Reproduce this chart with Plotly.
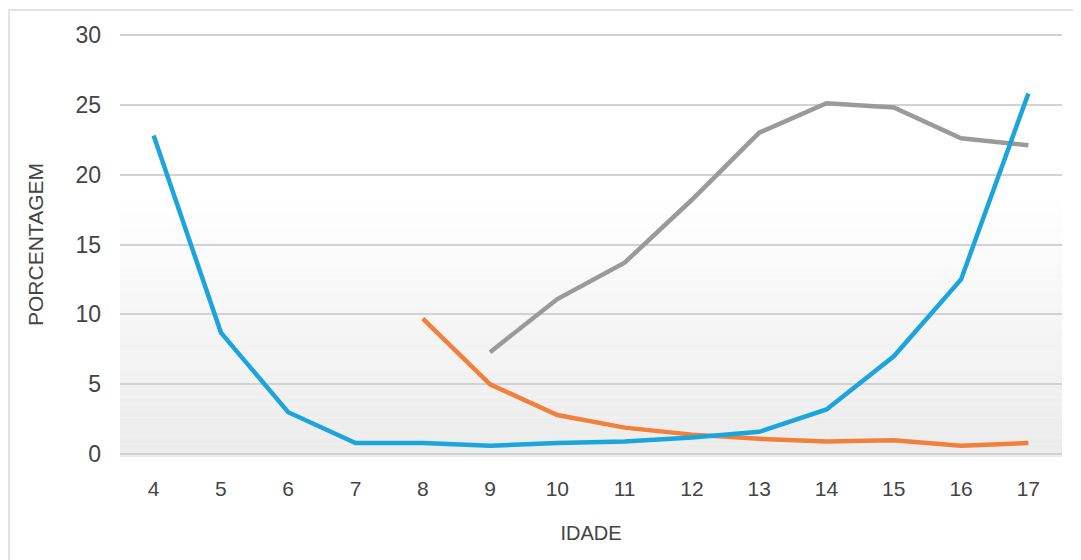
import plotly.graph_objects as go

ages = [4, 5, 6, 7, 8, 9, 10, 11, 12, 13, 14, 15, 16, 17]
serie_azul = [22.8, 8.7, 3.0, 0.8, 0.8, 0.6, 0.8, 0.9, 1.2, 1.6, 3.2, 7.0, 12.5, 25.8]
serie_laranja = [None, None, None, None, 9.7, 5.0, 2.8, 1.9, 1.4, 1.1, 0.9, 1.0, 0.6, 0.8]
serie_cinza = [None, None, None, None, None, 7.3, 11.1, 13.7, 18.2, 23.0, 25.1, 24.8, 22.6, 22.1]
y_ticks = [0, 5, 10, 15, 20, 25, 30]

fig = go.Figure()
fig.add_trace(go.Scatter(x=ages, y=serie_cinza, mode="lines",
                         line=dict(color="#9a9a9a", width=4.5), showlegend=False))
fig.add_trace(go.Scatter(x=ages, y=serie_laranja, mode="lines",
                         line=dict(color="#f0803c", width=4.5), showlegend=False))
fig.add_trace(go.Scatter(x=ages, y=serie_azul, mode="lines",
                         line=dict(color="#1ba5dc", width=4.5), showlegend=False))

# page offset (browser body margin) compensation
OFF = 8
W, H = 1081 - OFF, 560 - OFF
top_px, bot_px = 32, 457          # plot area in page pixels
ml, mr, mt, mb = 120 - OFF, 19, top_px - OFF, 560 - bot_px
pw, ph = W - ml - mr, H - mt - mb

# background gradient (white at top -> light gray at bottom)
shapes = []
n = 40
top = 0.62
for i in range(n):
    y0 = top * i / n
    y1 = top * (i + 1) / n
    t = (i + 0.5) / n  # 0 bottom, 1 top
    g = int(round(235 + (255 - 235) * t))
    shapes.append(dict(type="rect", xref="paper", yref="paper", x0=0, x1=1,
                       y0=y0, y1=y1, fillcolor=f"rgb({g},{g},{g})",
                       line=dict(width=0), layer="below"))
# outer border (left and top visible)
shapes.append(dict(type="rect", xref="paper", yref="paper",
                   x0=(9 - 120) / pw, x1=(1100 - 120) / pw,
                   y0=(bot_px - 580) / ph, y1=(bot_px - 10) / ph,
                   line=dict(color="#e2e2e2", width=2), fillcolor="rgba(0,0,0,0)",
                   layer="below"))

fig.update_layout(
    width=W, height=H,
    margin=dict(l=ml, r=mr, t=mt, b=mb, autoexpand=False),
    paper_bgcolor="white", plot_bgcolor="white",
    font=dict(family="Liberation Sans, Arial, sans-serif", color="#444444"),
    shapes=shapes,
    xaxis=dict(range=[3.5, 17.5], tickmode="array", tickvals=ages,
               ticktext=[str(a) for a in ages], showgrid=False, zeroline=False,
               showline=False, ticks="", ticklabelstandoff=17,
               tickfont=dict(size=21, color="#444444"),
               title=dict(text="IDADE", font=dict(size=20, color="#444444"), standoff=26),
               automargin=False),
    yaxis=dict(range=[-0.2, 30.2], tickmode="array", tickvals=y_ticks,
               showgrid=True, gridcolor="#d2d2d2", gridwidth=2,
               zeroline=False, showline=False, ticks="", ticklabelstandoff=18,
               tickfont=dict(size=23, color="#444444"),
               title=dict(text="PORCENTAGEM", font=dict(size=21, color="#444444"), standoff=26),
               automargin=False),
)

fig.write_html("out.html")
